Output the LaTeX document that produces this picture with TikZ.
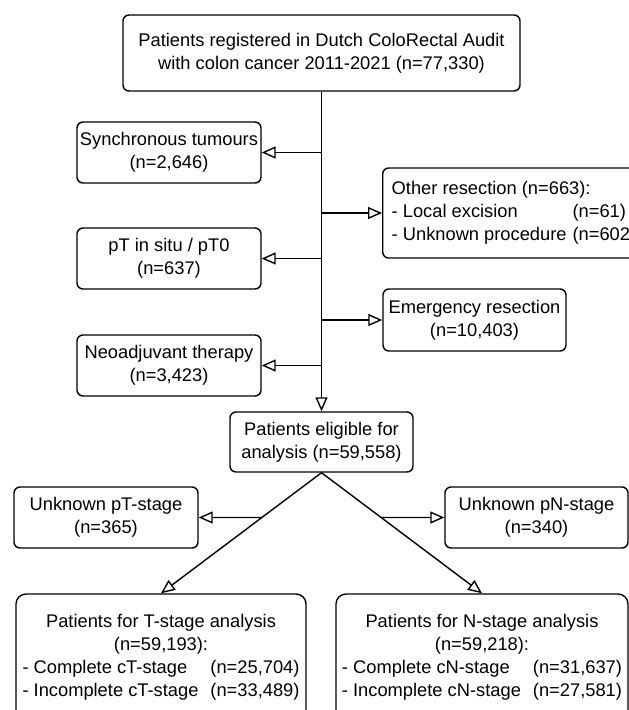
\documentclass[tikz,border=0pt]{standalone}
\usepackage{fontspec}
\setmainfont{Liberation Sans}
\usetikzlibrary{arrows.meta}
\tikzset{
	box/.style={draw, line width=1.4pt, rounded corners=6pt, align=center, inner sep=0pt, font=\fontsize{18.3}{23}\selectfont},
	sidebox/.style={box, minimum width=184pt, minimum height=61pt},
	flow/.style={line width=1.4pt, -{Triangle[open, fill=white, length=14pt, width=12pt]}}
}

\begin{document}
\begin{tikzpicture}[x=1pt, y=-1pt]
			%%%%% START %%%%%
			\useasboundingbox (0, 0) rectangle (629, 710);
			\clip (0, 0) rectangle (629, 710);
			
			\node[box, minimum width=397pt, minimum height=76pt] (registered) at (321.5, 53) {Patients registered in Dutch ColoRectal Audit\\with colon cancer 2011-2021 (n=77,330)};
			
			\node[sidebox] (synchronous) at (169, 152.5) {Synchronous tumours\\(n=2,646)};
			\node[box, anchor=west, inner xsep=9pt, minimum height=90pt] (other) at (382, 213) {\begin{tabular}{@{}l@{\hspace{6pt}}l@{}}\multicolumn{2}{@{}l@{}}{Other resection (n=663):}\\- Local excision & (n=61)\\- Unknown procedure & (n=602)\end{tabular}};
			\node[sidebox] (insitu) at (169, 258.5) {pT in situ / pT0\\(n=637)};
			\node[sidebox, minimum width=183pt, minimum height=62pt] (emergency) at (474.5, 320) {Emergency resection\\(n=10,403)};
			\node[sidebox] (neoadjuvant) at (169, 365.5) {Neoadjuvant therapy\\(n=3,423)};
			
			\node[sidebox, minimum width=183pt, minimum height=60pt] (eligible) at (321.5, 442) {Patients eligible for\\analysis (n=59,558)};
			
			\node[sidebox] (unknownT) at (106, 517.5) {Unknown pT-stage\\(n=365)};
			\node[sidebox, minimum width=183pt] (unknownN) at (536.5, 517.5) {Unknown pN-stage\\(n=340)};
			
			\node[box, rounded corners=10pt, minimum width=290pt, minimum height=126pt] (stageT) at (161, 657) {\begin{tabular}{@{}l@{\hspace{12pt}}l@{}}\multicolumn{2}{@{}c@{}}{Patients for T-stage analysis}\\\multicolumn{2}{@{}c@{}}{(n=59,193):}\\- Complete cT-stage & (n=25,704)\\- Incomplete cT-stage & (n=33,489)\end{tabular}};
			\node[box, rounded corners=10pt, minimum width=292pt, minimum height=126pt] (stageN) at (482, 657) {\begin{tabular}{@{}l@{\hspace{12pt}}l@{}}\multicolumn{2}{@{}c@{}}{Patients for N-stage analysis}\\\multicolumn{2}{@{}c@{}}{(n=59,218):}\\- Complete cN-stage & (n=31,637)\\- Incomplete cN-stage & (n=27,581)\end{tabular}};
			
			\draw[flow] (registered.south) -- (eligible.north);
			\draw[flow] (registered.south |- synchronous.east) -- (synchronous.east);
			\draw[flow] (registered.south |- other.west) -- (other.west);
			\draw[flow] (registered.south |- insitu.east) -- (insitu.east);
			\draw[flow] (registered.south |- emergency.west) -- (emergency.west);
			\draw[flow] (registered.south |- neoadjuvant.east) -- (neoadjuvant.east);
			
			\draw[flow] (eligible.south) -- (stageT.north);
			\draw[flow] (eligible.south) -- (stageN.north);
			\draw[flow] (intersection of eligible.south--stageT.north and unknownT.east--unknownN.west) -- (unknownT.east);
			\draw[flow] (intersection of eligible.south--stageN.north and unknownT.east--unknownN.west) -- (unknownN.west);
			
			%%%%% END %%%%%
		\end{tikzpicture}
\end{document}
